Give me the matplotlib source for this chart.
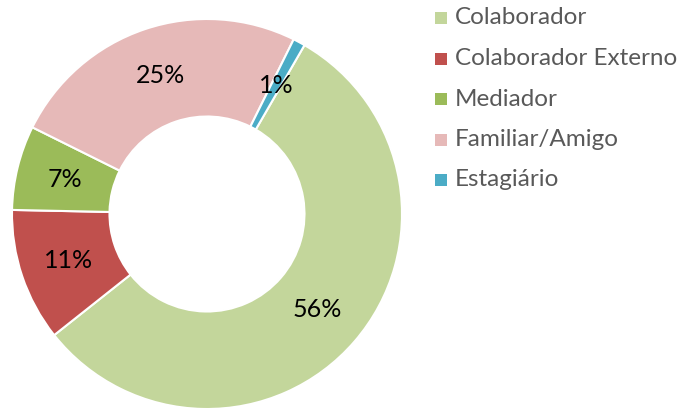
import matplotlib.pyplot as plt
from matplotlib.patches import Rectangle

labels = ['Colaborador', 'Colaborador Externo', 'Mediador', 'Familiar/Amigo', 'Estagiário']
values = [56, 11, 7, 25, 1]
colors = ['#C3D69B', '#C0504D', '#9BBB59', '#E6B9B8', '#4BACC6']

plt.rcParams['font.family'] = ['Lato', 'DejaVu Sans']

fig = plt.figure(figsize=(6.82, 4.08), dpi=100)
ax = fig.add_axes([12/682, -1/408, 390/682, 390/408])

wedges, texts, autotexts = ax.pie(values, colors=colors, startangle=60, counterclock=False,
                                  radius=1, autopct='%1.0f%%', pctdistance=0.75,
                                  wedgeprops=dict(width=0.5, edgecolor='white', linewidth=1.5),
                                  textprops=dict(fontsize=18, color='black'))
ax.set_xlim(-1, 1)
ax.set_ylim(-1, 1)
ax.set_aspect('equal')
ax.axis('off')

# legend drawn by hand so the rows sit where the original has them
for i, (lab, col) in enumerate(zip(labels, colors)):
    y = 408 - (18 + i * 40.5)
    fig.patches.append(Rectangle((435/682, (y - 6)/408), 12/682, 12/408,
                                 transform=fig.transFigure, facecolor=col, edgecolor='none'))
    fig.text(455/682, y/408, lab, fontsize=17.5, color='#595959', va='center', ha='left')

fig.savefig('out.png', dpi=100)
